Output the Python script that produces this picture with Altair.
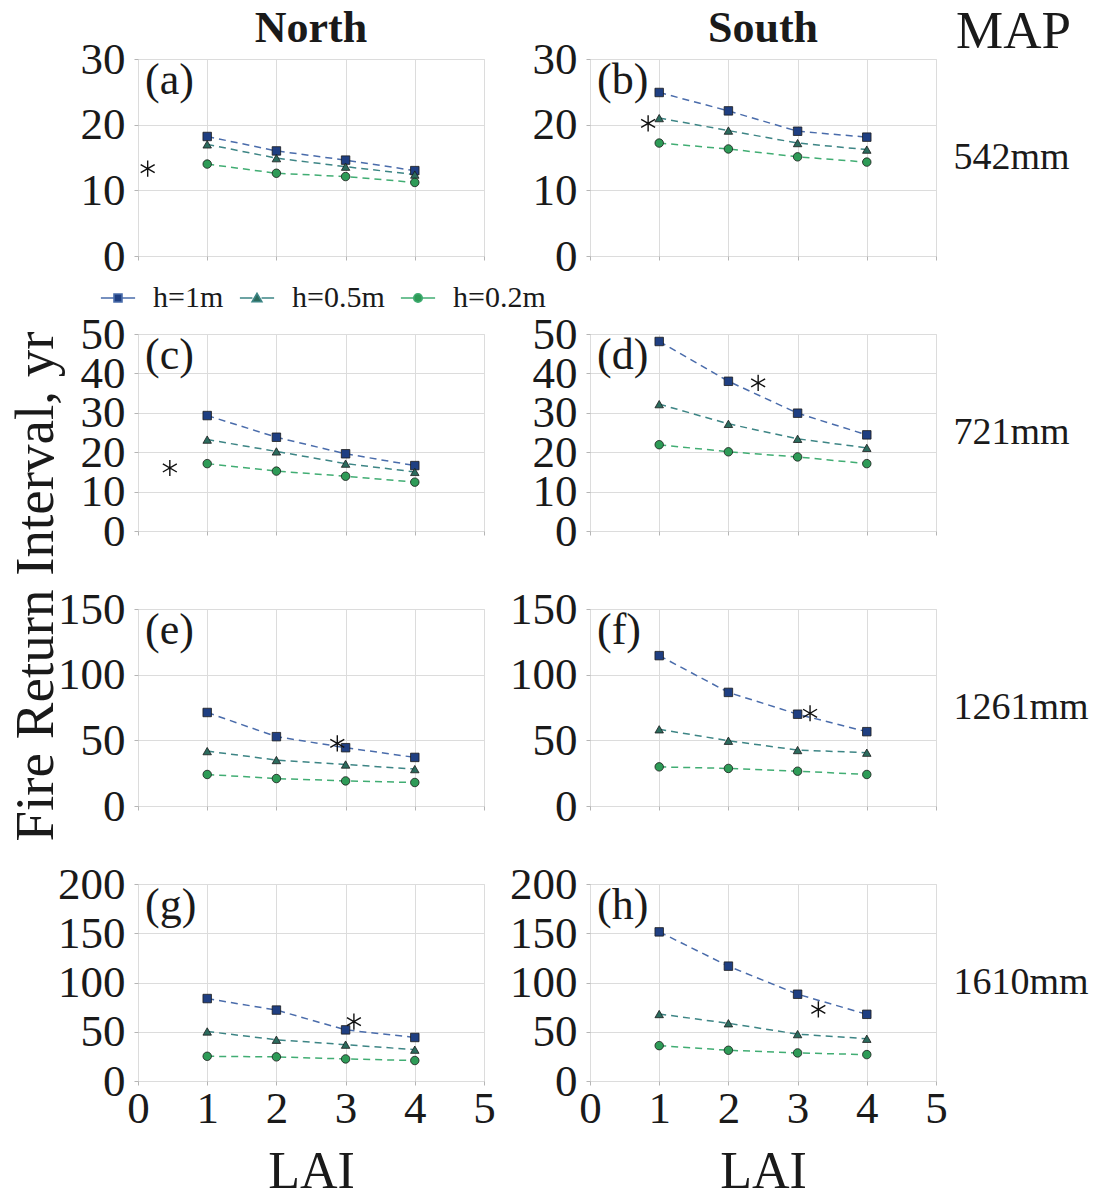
import altair as alt
import pandas as pd

# ---------------- data ----------------
lai = [1, 2, 3, 4]
series = ["h=1m", "h=0.5m", "h=0.2m"]
panel_ids = ["a", "b", "c", "d", "e", "f", "g", "h"]
col_titles = ["North", "South"]
map_labels = ["542mm", "721mm", "1261mm", "1610mm"]

a_1m = [18.2, 16.0, 14.6, 13.0]
a_05m = [17.0, 14.9, 13.6, 12.4]
a_02m = [14.0, 12.6, 12.1, 11.2]
b_1m = [24.9, 22.1, 19.0, 18.1]
b_05m = [21.0, 19.1, 17.2, 16.2]
b_02m = [17.2, 16.3, 15.1, 14.3]
c_1m = [29.3, 23.8, 19.6, 16.6]
c_05m = [23.2, 20.2, 17.1, 15.0]
c_02m = [17.1, 15.2, 13.9, 12.4]
d_1m = [48.1, 38.0, 29.9, 24.4]
d_05m = [32.2, 27.2, 23.4, 21.1]
d_02m = [21.9, 20.1, 18.8, 17.1]
e_1m = [71.2, 52.8, 44.4, 37.0]
e_05m = [41.8, 35.0, 31.6, 28.1]
e_02m = [24.0, 20.9, 19.1, 17.9]
f_1m = [114.5, 86.5, 69.9, 56.6]
f_05m = [58.4, 49.7, 42.6, 40.6]
f_02m = [29.8, 28.6, 26.5, 24.0]
g_1m = [83.7, 72.0, 51.9, 44.2]
g_05m = [50.3, 41.9, 36.9, 31.8]
g_02m = [25.1, 24.5, 22.4, 20.8]
h_1m = [151.4, 116.6, 88.1, 67.7]
h_05m = [68.0, 58.6, 47.6, 42.9]
h_02m = [35.9, 31.2, 28.5, 26.8]

star_lai = [0.14, 0.84, 0.46, 2.43, 2.88, 3.18, 3.12, 3.30]
star_fri = [13.3, 20.2, 16.0, 37.6, 47.7, 70.6, 60.3, 72.7]

y_max = [30, 50, 150, 200]
y_step = [10, 10, 50, 50]
x_ticks = [0, 1, 2, 3, 4, 5]

panel_values = {
    "a": [a_1m, a_05m, a_02m], "b": [b_1m, b_05m, b_02m],
    "c": [c_1m, c_05m, c_02m], "d": [d_1m, d_05m, d_02m],
    "e": [e_1m, e_05m, e_02m], "f": [f_1m, f_05m, f_02m],
    "g": [g_1m, g_05m, g_02m], "h": [h_1m, h_05m, h_02m],
}

# ---------------- styles ----------------
FONT = "Liberation Serif"
TXT = "#1a1a1a"
line_colors = ["#4a6cab", "#3d8585", "#41ad73"]
fill_colors = ["#1f3f82", "#2b6b5d", "#2e9b57"]
shapes = ["square", "triangle-up", "circle"]
STAR = "M0,-1L0,1M-0.866,-0.5L0.866,0.5M-0.866,0.5L0.866,-0.5"
legend_paths = [
    "M-3,0L-0.7,0M0.7,0L3,0M-0.7,-0.7L0.7,-0.7L0.7,0.7L-0.7,0.7Z",
    "M-3,0L-0.8,0M0.8,0L3,0M0,-0.8L0.85,0.65L-0.85,0.65Z",
    "M-3,0L-0.75,0M0.75,0L3,0M0.75,0A0.75,0.75 0 1,1 -0.75,0A0.75,0.75 0 1,1 0.75,0Z",
]
W, H = 346, 197
TICK_FS = 45


def make_panel(i):
    pid = panel_ids[i]
    row, col = divmod(i, 2)
    ymax, ystep = y_max[row], y_step[row]
    recs = []
    for s, vals in zip(series, panel_values[pid]):
        for x, v in zip(lai, vals):
            recs.append({"lai": x, "fri": v, "series": s})
    df = pd.DataFrame(recs)
    sdf = pd.DataFrame({"lai": [star_lai[i]], "fri": [star_fri[i]]})

    xs = alt.Scale(domain=[0, 5], nice=False, zero=False)
    ys = alt.Scale(domain=[0, ymax], nice=False)

    xa = dict(values=x_ticks, format="d", labels=(row == 3), tickSize=4,
              tickColor="#b5b5b5", domain=False, grid=True, gridColor="#dcdcdc",
              labelFont=FONT, labelFontSize=TICK_FS, labelColor=TXT, labelPadding=1,
              labelFlush=False, labelOverlap=False)
    if row == 3:
        xa.update(title="LAI", titleFont=FONT, titleFontSize=52,
                  titleFontWeight="normal", titleColor=TXT, titleY=90,
                  titleBaseline="middle")
    else:
        xa.update(title=None)
    ya = dict(values=list(range(0, ymax + 1, ystep)), format="d", tickSize=4,
              tickColor="#b5b5b5", domain=False, grid=True, gridColor="#dcdcdc",
              labelFont=FONT, labelFontSize=TICK_FS, labelColor=TXT, labelPadding=9,
              labelFlush=False, labelOverlap=False)
    if pid == "c":
        ya.update(title="Fire Return Interval, yr", titleFont=FONT,
                  titleFontSize=55, titleFontWeight="normal", titleColor=TXT,
                  titleAngle=270, titleX=-103, titleY=252, titleAlign="center",
                  titleBaseline="middle")
    else:
        ya.update(title=None)

    lines = alt.Chart(df).mark_line(strokeDash=[7, 5], strokeWidth=1.5).encode(
        x=alt.X("lai:Q", scale=xs, axis=alt.Axis(**xa)),
        y=alt.Y("fri:Q", scale=ys, axis=alt.Axis(**ya)),
        color=alt.Color("series:N", scale=alt.Scale(domain=series, range=line_colors), legend=None),
        detail="series:N",
    )
    points = alt.Chart(df).mark_point(filled=True, size=72, stroke="#1c1c1c",
                                      strokeWidth=0.8, opacity=1).encode(
        x=alt.X("lai:Q", scale=xs, axis=None),
        y=alt.Y("fri:Q", scale=ys, axis=None),
        fill=alt.Fill("series:N", scale=alt.Scale(domain=series, range=fill_colors), legend=None),
        shape=alt.Shape("series:N", scale=alt.Scale(domain=series, range=shapes), legend=None),
    )

    if col == 1:
        sx_axis = alt.Axis(orient="top", title="MAP", labels=False, ticks=False,
                           domain=False, grid=False, titleX=423, titleY=-28,
                           titleAlign="center", titleBaseline="middle", titleFont=FONT,
                           titleFontSize=53, titleFontWeight="normal", titleColor=TXT) if row == 0 else None
        sy_axis = alt.Axis(orient="right", title=map_labels[row], labels=False,
                           ticks=False, domain=False, grid=False, titleAngle=0,
                           titleAlign="left", titleBaseline="middle", titleX=17,
                           titleY=H / 2, titleFont=FONT, titleFontSize=38,
                           titleFontWeight="normal", titleColor=TXT)
    else:
        sx_axis = None
        sy_axis = None
    star = alt.Chart(sdf).mark_point(shape=STAR, size=260, color="#111111",
                                     strokeWidth=1.4, filled=False, opacity=1).encode(
        x=alt.X("lai:Q", scale=xs, axis=sx_axis),
        y=alt.Y("fri:Q", scale=ys, axis=sy_axis),
    )
    label = alt.Chart(pd.DataFrame({"t": [f"({pid})"]})).mark_text(
        align="left", baseline="top", font=FONT, fontSize=44, color=TXT
    ).encode(text="t:N", x=alt.value(7), y=alt.value(0))

    layers = [lines, points, star, label]
    if pid == "a":
        leg = alt.Legend(orient="none", legendX=-35, legendY=224, direction="horizontal",
                         title=None, labelFont=FONT, labelFontSize=30, labelColor=TXT,
                         symbolSize=130, symbolStrokeWidth=1.6, labelOffset=20,
                         columnPadding=12)
        legend_layer = alt.Chart(df).transform_filter("false").mark_point(
            filled=True, opacity=1, strokeWidth=1.6).encode(
            x=alt.X("lai:Q", scale=xs, axis=None),
            y=alt.Y("fri:Q", scale=ys, axis=None),
            stroke=alt.Stroke("series:N", scale=alt.Scale(domain=series, range=line_colors), legend=leg),
            fill=alt.Fill("series:N", scale=alt.Scale(domain=series, range=fill_colors), legend=leg),
            shape=alt.Shape("series:N", scale=alt.Scale(domain=series, range=legend_paths), legend=leg),
        )
        layers.append(legend_layer)

    ch = alt.layer(*layers).properties(width=W, height=H)
    if pid == "a":
        ch = ch.resolve_scale(color="independent", fill="independent",
                              shape="independent", stroke="independent")
    ch = ch.resolve_axis(x="independent", y="independent")
    if row == 0:
        tkw = dict(font=FONT, fontSize=44, fontWeight="bold", color=TXT, offset=11,
                   frame="group", anchor="middle", dy=25 if col == 0 else 57)
        ch = ch.properties(title=alt.Title(col_titles[col], **tkw))
    return ch


panels = [make_panel(i) for i in range(8)]
chart = alt.concat(*panels, columns=2, spacing={"row": 78, "column": 106},
                   bounds="flush").properties(
    padding={"left": 7, "top": 4, "right": 5, "bottom": 5}
).configure_view(stroke="#222222", strokeWidth=1.2).configure(background="white")

chart.save("out.html", embed_options={"renderer": "svg", "actions": False})
